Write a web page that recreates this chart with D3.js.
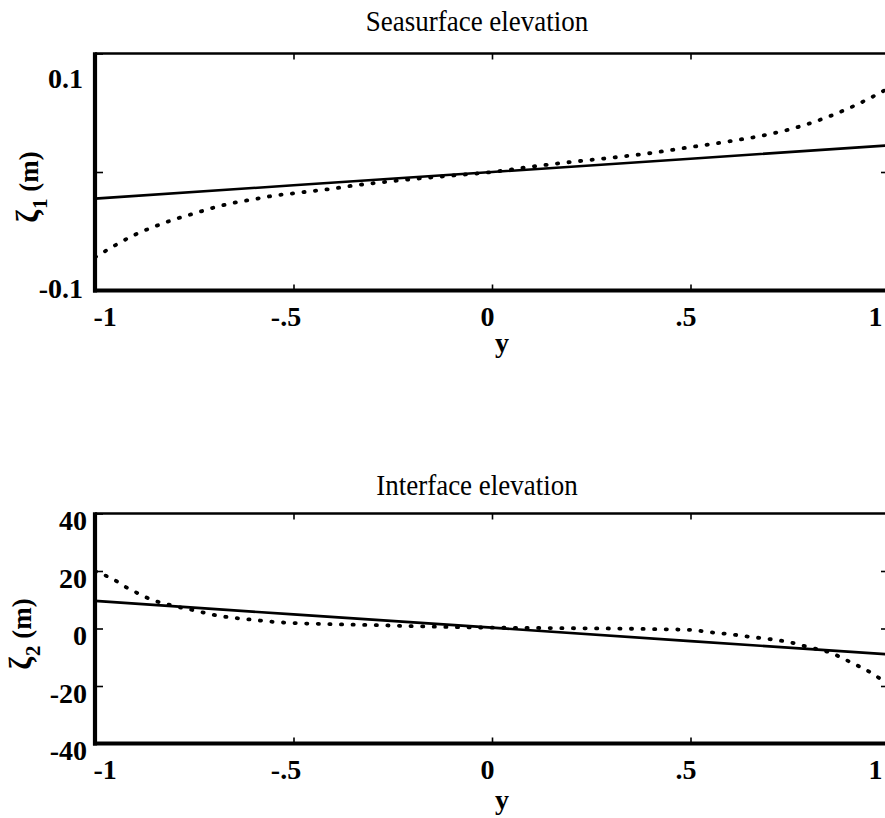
<!DOCTYPE html>
<html>
<head>
<meta charset="utf-8">
<script src="https://cdn.jsdelivr.net/npm/d3@7"></script>
<style>
  html, body { margin: 0; padding: 0; background: #fff; }
  svg { display: block; }
  text { font-family: "Liberation Serif", "Times New Roman", serif; fill: #000; }
</style>
</head>
<body>
<svg id="fig" width="885" height="818"></svg>
<script>
// ---- data -------------------------------------------------------------
// cross-channel coordinate y (nondimensional)
const yLinear = [-1, -0.5, 0, 0.5, 1];

// Sea-surface elevation zeta_1 (m)
const zeta1Linear = [-0.0225, -0.0112, 0, 0.0112, 0.0225];
const yZeta1Full = [-1, -0.95, -0.9, -0.85, -0.8, -0.75, -0.7, -0.65, -0.6, -0.55,
                    -0.5, -0.45, -0.4, -0.35, -0.3, -0.2, -0.1, 0, 0.1, 0.2, 0.3,
                    0.4, 0.5, 0.6, 0.7, 0.75, 0.8, 0.85, 0.9, 0.95, 1];
const zeta1Full = [-0.072, -0.062, -0.053, -0.046, -0.040, -0.035, -0.030, -0.026,
                   -0.023, -0.020, -0.018, -0.016, -0.014, -0.0115, -0.0095, -0.006,
                   -0.003, 0, 0.0045, 0.0085, 0.012, 0.016, 0.021, 0.026, 0.032,
                   0.036, 0.041, 0.047, 0.054, 0.062, 0.071];

// Interface elevation zeta_2 (m)
const zeta2Linear = [9.6, 4.9, 0.3, -4.4, -9.0];
const yZeta2Full = [-1, -0.975, -0.95, -0.925, -0.9, -0.875, -0.85, -0.8, -0.75, -0.7,
                    -0.65, -0.6, -0.55, -0.5, -0.4, -0.3, -0.2, -0.1, 0, 0.1, 0.2,
                    0.3, 0.4, 0.5, 0.55, 0.6, 0.65, 0.7, 0.75, 0.8, 0.85, 0.9, 0.925,
                    0.95, 0.975, 1];
const zeta2Full = [20.0, 18.5, 16.8, 14.6, 12.8, 11.1, 9.7, 7.8, 6.3, 4.7, 3.7, 3.0,
                   2.3, 1.9, 1.5, 1.2, 0.8, 0.5, 0.3, 0.2, 0.1, 0.0, -0.2, -0.5, -1.3,
                   -2.0, -2.9, -3.7, -4.8, -6.6, -8.3, -11.5, -13.2, -15.0, -17.2, -19.5];

// axis ticks and labels
const xTickValues = [-1, -0.5, 0, 0.5, 1];
const xTickLabels = ["-1", "-.5", "0", ".5", "1"];
const zeta1TickValues = [-0.1, 0, 0.1];
const zeta1TickLabels = ["-0.1", "", "0.1"];
const zeta2TickValues = [-40, -20, 0, 20, 40];
const zeta2TickLabels = ["-40", "-20", "0", "20", "40"];

// ---- layout -----------------------------------------------------------
const svg = d3.select("#fig");
const FS = 28;

const panels = [
  {
    title: "Seasurface elevation", sub: "1",
    top: 53.5, bottom: 290.5, yDomain: [-0.1, 0.1],
    tickValues: zeta1TickValues, tickLabels: zeta1TickLabels,
    labelShift: v => (v > 0 ? 34 : 6.5), labelX: -12,
    innerTicks: [0],
    xs1: yLinear, lin: zeta1Linear, xs2: yZeta1Full, full: zeta1Full,
    titleY: 31, xLabelY: 352, yLabelX: 38, yLabelY: 187
  },
  {
    title: "Interface elevation", sub: "2",
    top: 513.5, bottom: 743.5, yDomain: [-40, 40],
    tickValues: zeta2TickValues, tickLabels: zeta2TickLabels,
    labelShift: v => 16, labelX: -8,
    innerTicks: [-20, 0, 20],
    xs1: yLinear, lin: zeta2Linear, xs2: yZeta2Full, full: zeta2Full,
    titleY: 495, xLabelY: 809, yLabelX: 31, yLabelY: 634
  }
];

const left = 95, right = 889;

panels.forEach(p => {
  const x = d3.scaleLinear().domain([-1, 1]).range([left, right]);
  const y = d3.scaleLinear().domain(p.yDomain).range([p.bottom, p.top]);
  const g = svg.append("g");

  // title (slightly tall lettering)
  g.append("text")
    .attr("transform", `translate(477,${p.titleY}) scale(1,1.12)`)
    .attr("text-anchor", "middle")
    .attr("font-size", 27)
    .text(p.title);

  // inward x ticks on bottom and top edges
  const xb = g.append("g").attr("transform", `translate(0,${p.bottom})`)
    .call(d3.axisBottom(x).tickValues(xTickValues).tickSize(-6)
      .tickPadding(16).tickFormat((d, i) => xTickLabels[i]));
  const xt = g.append("g").attr("transform", `translate(0,${p.top})`)
    .call(d3.axisTop(x).tickValues(xTickValues).tickSize(-6).tickFormat(""));

  // inward y ticks on left and right edges
  const yl = g.append("g").attr("transform", `translate(${left},0)`)
    .call(d3.axisLeft(y).tickValues(p.tickValues).tickSize(-8)
      .tickPadding(8).tickFormat((d, i) => p.tickLabels[i]));
  const yr = g.append("g").attr("transform", `translate(${right},0)`)
    .call(d3.axisRight(y).tickValues(p.innerTicks).tickSize(-8).tickFormat(""));

  [xb, xt, yl, yr].forEach(a => {
    a.select(".domain").remove();
    a.selectAll(".tick line").attr("stroke", "#000").attr("stroke-width", 1.6);
    a.selectAll("text")
      .attr("font-family", "'Liberation Serif', 'Times New Roman', serif")
      .attr("font-size", FS).attr("font-weight", "bold").attr("fill", "#000");
  });

  // x labels: end labels pinned inside the frame
  xb.selectAll(".tick text")
    .attr("dy", "0.71em")
    .attr("text-anchor", d => d === -1 ? "start" : d === 1 ? "end" : "middle")
    .attr("dx", d => d === -1 ? -2 : d === 1 ? -7 : d < 0 ? -8 : -5);

  // y labels sit just below their tick
  yl.selectAll(".tick text")
    .attr("x", p.labelX).attr("dy", null)
    .attr("y", d => p.labelShift(d));

  // frame: heavy left and bottom edges
  g.append("line").attr("x1", left).attr("x2", right).attr("y1", p.top).attr("y2", p.top)
    .attr("stroke", "#000").attr("stroke-width", 2.6);
  g.append("line").attr("x1", right).attr("x2", right).attr("y1", p.top).attr("y2", p.bottom)
    .attr("stroke", "#000").attr("stroke-width", 2.6);
  g.append("line").attr("x1", left).attr("x2", left).attr("y1", p.top - 1.3).attr("y2", p.bottom + 2)
    .attr("stroke", "#000").attr("stroke-width", 4.2);
  g.append("line").attr("x1", left - 2).attr("x2", right).attr("y1", p.bottom).attr("y2", p.bottom)
    .attr("stroke", "#000").attr("stroke-width", 4.2);

  // dotted: full solution
  const lineFull = d3.line().x((d, i) => x(p.xs2[i])).y(d => y(d)).curve(d3.curveMonotoneX);
  g.append("path").datum(p.full)
    .attr("d", lineFull)
    .attr("fill", "none").attr("stroke", "#000")
    .attr("stroke-width", 3.8).attr("stroke-linecap", "round")
    .attr("stroke-dasharray", "1.2 10.4");

  // solid: linear solution
  const lineLin = d3.line().x((d, i) => x(p.xs1[i])).y(d => y(d));
  g.append("path").datum(p.lin)
    .attr("d", lineLin)
    .attr("fill", "none").attr("stroke", "#000").attr("stroke-width", 2.6);

  // x-axis label
  g.append("text")
    .attr("x", 502).attr("y", p.xLabelY)
    .attr("text-anchor", "middle")
    .attr("font-size", 28).attr("font-weight", "bold")
    .text("y");

  // y-axis label: zeta with subscript, then units
  const yl2 = g.append("text")
    .attr("transform", `translate(${p.yLabelX},${p.yLabelY}) rotate(-90)`)
    .attr("text-anchor", "middle")
    .attr("font-size", 27).attr("font-weight", "bold");
  yl2.append("tspan").attr("font-size", 31).text("ζ");
  yl2.append("tspan").attr("font-size", 21).attr("dy", 9).attr("dx", 1).text(p.sub);
  yl2.append("tspan").attr("dy", -9).text(" (m)");
});
</script>
</body>
</html>
